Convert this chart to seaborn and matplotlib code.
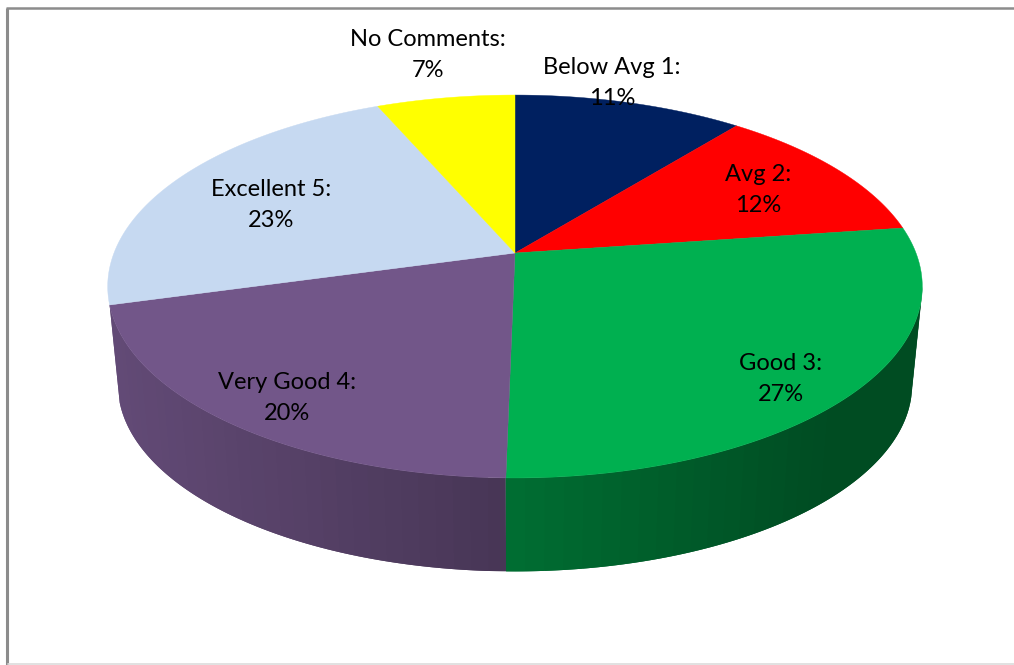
import numpy as np
import matplotlib
matplotlib.use("Agg")
import matplotlib.pyplot as plt
import seaborn as sns

# data
categories = ["Below Avg 1", "Avg 2", "Good 3", "Very Good 4", "Excellent 5", "No Comments"]
shares = [10.8, 12.0, 27.5, 20.4, 22.8, 6.5]
shown_pct = [11, 12, 27, 20, 23, 7]
colors = ["#002060", "#ff0000", "#00b050", "#725689", "#c6d9f1", "#ffff00"]
side_visible = [False, False, True, True, False, False]
label_xy = [(612, 83), (758, 190), (781, 379), (287, 398), (271, 205), (428, 55)]

sns.set_theme(style="white")
plt.rcParams["font.family"] = ["Lato", "DejaVu Sans"]

fig = plt.figure(figsize=(10.14, 6.65), dpi=100)
ax = fig.add_axes([0, 0, 1, 1])
ax.set_xlim(0, 1014)
ax.set_ylim(665, 0)
ax.axis("off")

# perspective projection of the disc
P = 0.175
CX = 515.0


def rim(theta, apex_y, a, b):
    u, v = np.sin(theta), np.cos(theta)
    d = 1 + P * v
    return CX + a * u / d, apex_y - b * v / d


TOP = (253.0, 401.0, 185.6)
LOW = (352.0, 391.0, 181.0)

edges = np.radians(np.concatenate([[0], np.cumsum(shares)]) * 3.6)
rgb = sns.color_palette(colors)

# side wall: bands painted in order, each running past the next one to avoid seams
for i, c in enumerate(rgb):
    if not side_visible[i]:
        continue
    start = max(edges[i], np.arccos(-P)) if edges[i] < np.pi else edges[i]
    ts = np.linspace(start, edges[i + 1], 36)
    for k in range(len(ts) - 1):
        t_end = ts[min(k + 2, len(ts) - 1)]
        tt = np.linspace(ts[k], t_end, 12)
        xt, yt = rim(tt, *TOP)
        xb, yb = rim(tt[::-1], *LOW)
        xm = rim(np.array([(ts[k] + ts[k + 1]) / 2]), *TOP)[0][0]
        f = max(0.43, 0.62 - 0.24 * (xm - CX) / 400)
        col = tuple(min(1, ch * f) for ch in c)
        ax.fill(np.r_[xt, xb], np.r_[yt, yb], color=col, lw=0, zorder=1 + k * 0.001)

# top face
for i, c in enumerate(rgb):
    tt = np.linspace(edges[i], edges[i + 1], 200)
    x, y = rim(tt, *TOP)
    ax.fill(np.r_[CX, x], np.r_[TOP[0], y], color=c, lw=0.3, zorder=2)

# labels
for name, pct, (lx, ly) in zip(categories, shown_pct, label_xy):
    ax.text(lx, ly, f"{name}:\n{pct}%", ha="center", va="center", fontsize=17,
            color="black", linespacing=1.55, zorder=3)

# frame
ax.plot([6.5, 6.5], [665, 8], color="#8c8c8c", lw=2.2, solid_capstyle="butt", zorder=4)
ax.plot([5.5, 1014], [8, 8], color="#8c8c8c", lw=1.8, solid_capstyle="butt", zorder=4)
ax.plot([8, 1014], [664.3, 664.3], color="#dcdcdc", lw=1.2, zorder=4)

fig.savefig("out.png", dpi=100)
